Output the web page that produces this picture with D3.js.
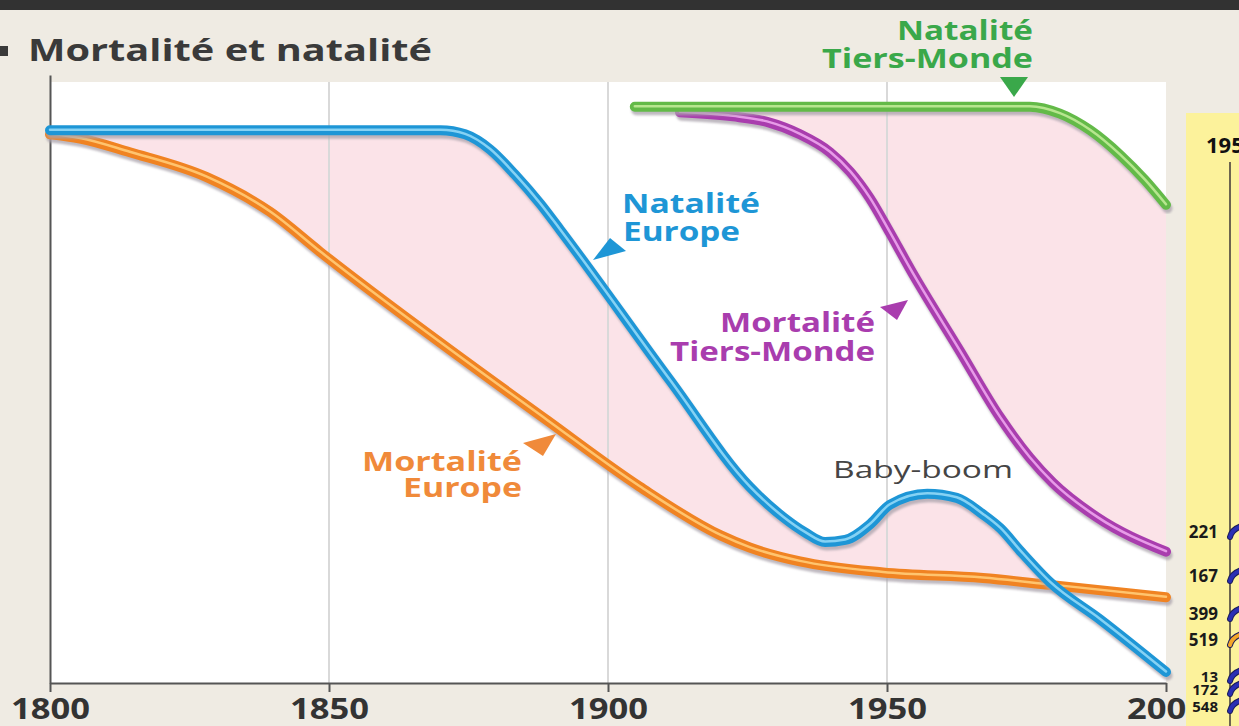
<!DOCTYPE html>
<html>
<head>
<meta charset="utf-8">
<script src="https://cdn.jsdelivr.net/npm/d3@7"></script>
<style>
  html, body { margin: 0; padding: 0; background: #efebe3; }
  svg { display: block; }
  text { font-family: "Open Sans", "Noto Sans", sans-serif; }
</style>
</head>
<body>
<svg id="chart" width="1239" height="726"></svg>
<script>
// Birth and death rates (per thousand), schematic demographic transition
const ticks = [1800, 1850, 1900, 1950, 2000];

const natEuropeYears = [1800, 1870, 1874.4, 1878.9, 1883.3, 1887.8, 1891.4, 1911.1, 1925.4, 1931.4, 1935.3, 1938.9, 1942.5, 1947.0, 1950.5, 1957.2, 1962.5, 1967.2, 1970.3, 1973.8, 1979.2, 1988.2, 2000];
const natEuropeVals  = [40.0, 40.0, 39.7, 38.6, 36.8, 34.7, 32.8, 21.9, 14.2, 12.0, 10.9, 10.2, 10.35, 11.5, 12.9, 13.7, 13.4, 12.2, 11.2, 9.6, 7.3, 4.6, 0.8];

const mortEuropeYears = [1800, 1805.4, 1814.3, 1828.1, 1839.4, 1848.4, 1889.1, 1905.7, 1920.1, 1925.4, 1934.4, 1949.3, 1967.2, 1979.2, 2000];
const mortEuropeVals  = [39.7, 39.4, 38.4, 36.6, 34.1, 31.2, 19.0, 14.2, 10.7, 9.8, 8.8, 8.0, 7.6, 7.1, 6.2];

const natTiersYears = [1904.8, 1975.6, 1981.0, 1986.4, 1991.8, 1996.2, 2000];
const natTiersVals  = [41.7, 41.7, 41.2, 40.0, 38.2, 36.4, 34.6];

const mortTiersYears = [1912.9, 1922.4, 1928.5, 1934.4, 1939.8, 1943.4, 1946.9, 1950.5, 1954.1, 1963.1, 1970.3, 1975.6, 1979.7, 1987.6, 2000];
const mortTiersVals  = [41.3, 41.0, 40.6, 39.7, 38.4, 37.0, 35.1, 32.6, 30.0, 24.0, 19.2, 16.3, 14.5, 12.0, 9.5];

// Figures shown in the side panel
const sideYear = "1950";
const sideNumbers = ["221", "167", "399", "519", "13", "172", "548"];
const sideKinds   = ["b", "b", "b", "o", "b", "b", "b"];

const svg = d3.select("#chart");
const W = 1239, H = 726;
const plot = { left: 50, right: 1166, top: 82, bottom: 683 };

const x = d3.scaleLinear().domain([1800, 2000]).range([plot.left, plot.right]);
const y = d3.scaleLinear().domain([0, 44]).range([plot.bottom, plot.bottom - 44 * 13.82]);

const zip = (ys, vs) => ys.map((yr, i) => ({ year: yr, v: vs[i] }));
const natEurope = zip(natEuropeYears, natEuropeVals);
const mortEurope = zip(mortEuropeYears, mortEuropeVals);
const natTiers = zip(natTiersYears, natTiersVals);
const mortTiers = zip(mortTiersYears, mortTiersVals);

const curve = d3.curveMonotoneX;
const line = d3.line().x(d => x(d.year)).y(d => y(d.v)).curve(curve);

// wide-set lettering: each line is fitted to its set width
function txt(parent, str, x0, y0, width, size, weight, color) {
  return parent.append("text").attr("x", x0).attr("y", y0)
    .attr("font-size", size).attr("font-weight", weight).attr("fill", color)
    .attr("textLength", width).attr("lengthAdjust", "spacingAndGlyphs")
    .text(str);
}

// top dark band
svg.append("rect").attr("x", 0).attr("y", 0).attr("width", W).attr("height", 10).attr("fill", "#323232");

// title
svg.append("rect").attr("x", 0).attr("y", 46).attr("width", 8).attr("height", 10).attr("fill", "#3a3a3a");
txt(svg, "Mortalité et natalité", 28, 61, 404, 31, 700, "#3a3a3a");

// plot background
svg.append("rect").attr("x", plot.left).attr("y", plot.top)
  .attr("width", plot.right - plot.left).attr("height", plot.bottom - plot.top)
  .attr("fill", "#ffffff");

const defs = svg.append("defs");

// Fill between a natality curve (above) and a mortality curve (below):
// area under natality, clipped to the region above mortality.
function gapFill(id, upper, lower) {
  const clipArea = d3.area().x(d => x(d.year)).y0(plot.top - 40).y1(d => y(d.v)).curve(curve);
  defs.append("clipPath").attr("id", id).append("path").attr("d", clipArea(lower));
  const underArea = d3.area().x(d => x(d.year)).y0(d => y(d.v)).y1(plot.bottom).curve(curve);
  svg.append("path").attr("d", underArea(upper))
    .attr("fill", "#fbe3e8").attr("clip-path", `url(#${id})`);
}
gapFill("gapEurope", natEurope, mortEurope);
gapFill("gapTiers", natTiers, mortTiers);

// vertical gridlines
svg.append("g").selectAll("line").data(ticks.slice(1, -1)).join("line")
  .attr("x1", d => x(d)).attr("x2", d => x(d))
  .attr("y1", plot.top).attr("y2", plot.bottom)
  .attr("stroke", "#d9d9d9").attr("stroke-width", 2);

// axes
const xAxis = d3.axisBottom(x).tickValues(ticks).tickSize(9).tickSizeOuter(0).tickFormat(d3.format("d"));
const gx = svg.append("g").attr("transform", `translate(0,${plot.bottom})`).call(xAxis);
gx.select(".domain").attr("stroke", "#555").attr("stroke-width", 2);
gx.selectAll(".tick line").attr("stroke", "#555").attr("stroke-width", 2);
gx.selectAll(".tick text").attr("y", 36).attr("dy", 0)
  .attr("font-size", 28).attr("font-weight", 700).attr("fill", "#333")
  .attr("font-family", "'Open Sans', sans-serif")
  .attr("textLength", 79).attr("lengthAdjust", "spacingAndGlyphs");

const yAxis = d3.axisLeft(y).tickValues([]).tickSizeOuter(0);
const gy = svg.append("g").attr("transform", `translate(${plot.left},0)`).call(yAxis);
gy.select(".domain").attr("stroke", "#555").attr("stroke-width", 2);

// tube-like series lines with a soft shadow
const blur = defs.append("filter").attr("id", "soft").attr("x", "-5%").attr("y", "-5%").attr("width", "110%").attr("height", "110%");
blur.append("feGaussianBlur").attr("stdDeviation", 1);

function tube(data, outer, inner) {
  const g = svg.append("g");
  g.append("path").attr("d", line(data)).attr("fill", "none")
    .attr("stroke", "#aaa2ab").attr("stroke-opacity", 0.75).attr("stroke-width", 10)
    .attr("stroke-linecap", "round").attr("transform", "translate(1.5,3.5)")
    .attr("filter", "url(#soft)");
  g.append("path").attr("d", line(data)).attr("fill", "none")
    .attr("stroke", outer).attr("stroke-width", 10).attr("stroke-linecap", "round");
  g.append("path").attr("d", line(data)).attr("fill", "none")
    .attr("stroke", inner).attr("stroke-width", 2.5).attr("stroke-linecap", "round")
    .attr("transform", "translate(0,-0.5)");
}
tube(mortEurope, "#f08322", "#ffc46e");
tube(natEurope, "#1e96d6", "#86d2f4");
tube(mortTiers, "#a93dae", "#e79be8");
tube(natTiers, "#63ba48", "#b7e68f");

// series labels with pointer triangles
function tri(pts, color) {
  svg.append("path").attr("d", "M" + pts.map(p => p.join(",")).join("L") + "Z").attr("fill", color);
}

const blue = "#1e96d6", purple = "#a93dae", orange = "#f08a3a", green = "#3aa84a";

txt(svg, "Natalité", 622, 213, 138, 26, 700, blue);
txt(svg, "Europe", 623, 241, 117, 26, 700, blue);
tri([[593, 260], [610, 238], [626, 251]], blue);

txt(svg, "Mortalité", 720, 332, 155, 26, 700, purple);
txt(svg, "Tiers-Monde", 670, 361, 205, 26, 700, purple);
tri([[880, 307], [908, 300], [897, 320]], purple);

txt(svg, "Mortalité", 362, 471, 160, 26, 700, orange);
txt(svg, "Europe", 403, 497, 119, 26, 700, orange);
tri([[523, 443], [556, 434], [543, 456]], orange);

txt(svg, "Natalité", 897, 40, 136, 26, 700, green);
txt(svg, "Tiers-Monde", 822, 68, 211, 26, 700, green);
tri([[1000, 77], [1028, 77], [1014, 97]], green);

txt(svg, "Baby-boom", 833, 478, 180, 24, 400, "#454545");

// side panel
const side = svg.append("g");
defs.append("clipPath").attr("id", "sideClip").append("rect")
  .attr("x", 1186).attr("y", 113).attr("width", W - 1186).attr("height", H - 113);
side.attr("clip-path", "url(#sideClip)");
side.append("rect").attr("x", 1186).attr("y", 113).attr("width", W - 1186).attr("height", H - 113).attr("fill", "#fcf29b");
side.append("text").attr("x", 1206).attr("y", 153).attr("font-size", 22).attr("font-weight", 700)
  .attr("fill", "#111").attr("font-family", "'DejaVu Sans', sans-serif").text(sideYear);
side.append("line").attr("x1", 1230).attr("x2", 1230).attr("y1", 162).attr("y2", H)
  .attr("stroke", "#6d6550").attr("stroke-width", 2);
const sideY = [538, 582, 620, 646, 682, 695, 712];
sideNumbers.forEach((n, i) => {
  side.append("text").attr("x", 1218).attr("y", sideY[i]).attr("text-anchor", "end")
    .attr("font-size", i >= 4 ? 15 : 17).attr("font-weight", 700).attr("fill", "#1a1a1a")
    .attr("font-family", "'Liberation Sans Narrow', 'DejaVu Sans Condensed', sans-serif")
    .text(n);
  const cy = sideY[i] - 6;
  const col = sideKinds[i] === "o" ? "#f4a62a" : "#2a2fb4";
  side.append("path").attr("d", `M1230,${cy + 5} Q1232,${cy - 3} 1242,${cy - 6}`)
    .attr("fill", "none").attr("stroke", "#1d1d5a").attr("stroke-width", 6).attr("stroke-linecap", "round");
  side.append("path").attr("d", `M1230,${cy + 5} Q1232,${cy - 3} 1242,${cy - 6}`)
    .attr("fill", "none").attr("stroke", col).attr("stroke-width", 4).attr("stroke-linecap", "round");
});
</script>
</body>
</html>
